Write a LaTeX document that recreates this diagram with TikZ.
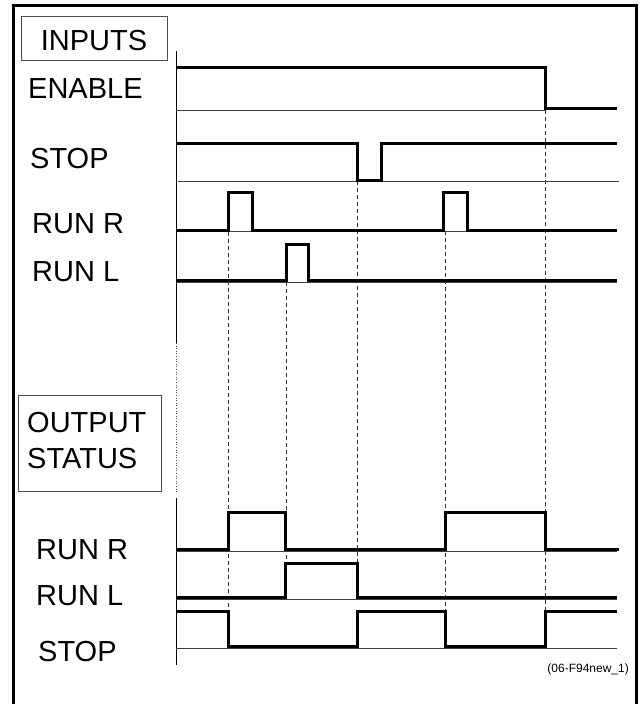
\documentclass[tikz,border=0pt]{standalone}
\usepackage{fontspec}
\setmainfont{Liberation Sans}
\begin{document}
\begin{tikzpicture}[x=1pt,y=-1pt,
    sig/.style={line width=3pt,line join=miter},
    base/.style={line width=0.8pt,black!75},
    guide/.style={line width=0.8pt,dash pattern=on 4pt off 3pt,black!80},
    lbl/.style={anchor=base west,inner sep=0pt,font=\fontsize{29}{34}\selectfont},
    hbox/.style={draw=black!70,line width=1pt}]
    \useasboundingbox (0,0) rectangle (642,704);
    \draw[line width=3pt] (13,704) -- (13,5) -- (636,5) -- (636,704);

    \draw[hbox] (21,16) rectangle (167,60);
    \draw[hbox] (18,395) rectangle (161,491);
    \node[lbl,anchor=base] (inputs) at (94,50) {INPUTS};
    \node[lbl] (enable) at (28,98) {ENABLE};
    \node[lbl] (stopin) at (30,168) {STOP};
    \node[lbl] (runrin) at (32,233) {RUN R};
    \node[lbl] (runlin) at (32,281) {RUN L};
    \node[lbl] (output) at (27,432) {OUTPUT};
    \node[lbl] (status) at (27,468) {STATUS};
    \node[lbl] (runrout) at (36,559) {RUN R};
    \node[lbl] (runlout) at (36,605) {RUN L};
    \node[lbl] (stopout) at (38,661) {STOP};
    \node[anchor=base east,inner sep=0pt,font=\fontsize{12}{14}\selectfont] (figid) at (629,672) {(06-F94new\_1)};

    \draw[line width=0.8pt] (176,51) -- (176,343) (176,498) -- (176,665);
    \draw[line width=0.6pt,dotted,black!70] (176,343) -- (176,493);

    \draw[guide] (228,232) -- (228,611) (286,282) -- (286,563) (357,181) -- (357,563)
          (445,231) -- (445,611) (545,110) -- (545,611);

    \draw[base] (176,110) -- (545,110) (178,181) -- (619,181) (176,231) -- (617,231)
          (176,282) -- (617,282) (176,551) -- (617,551) (176,599) -- (617,599)
          (176,648) -- (617,648);

    \draw[sig] (176,67) -- (545,67) -- (545,108) -- (617,108);
    \draw[sig] (176,143) -- (357,143) -- (357,180) -- (381,180) -- (381,143) -- (617,143);
    \draw[sig] (176,230) -- (228,230) -- (228,192) -- (252,192) -- (252,230) -- (443,230)
          -- (443,192) -- (467,192) -- (467,230) -- (617,230);
    \draw[sig] (176,280) -- (286,280) -- (286,244) -- (308,244) -- (308,280) -- (617,280);

    \draw[sig] (176,549) -- (228,549) -- (228,512) -- (285,512) -- (285,549) -- (445,549)
          -- (445,512) -- (545,512) -- (545,549) -- (619,549);
    \draw[sig] (176,597) -- (285,597) -- (285,563) -- (357,563) -- (357,597) -- (617,597);
    \draw[sig] (176,611) -- (228,611) -- (228,646) -- (357,646) -- (357,611) -- (445,611)
          -- (445,646) -- (545,646) -- (545,611) -- (617,611);
\end{tikzpicture}
\end{document}
